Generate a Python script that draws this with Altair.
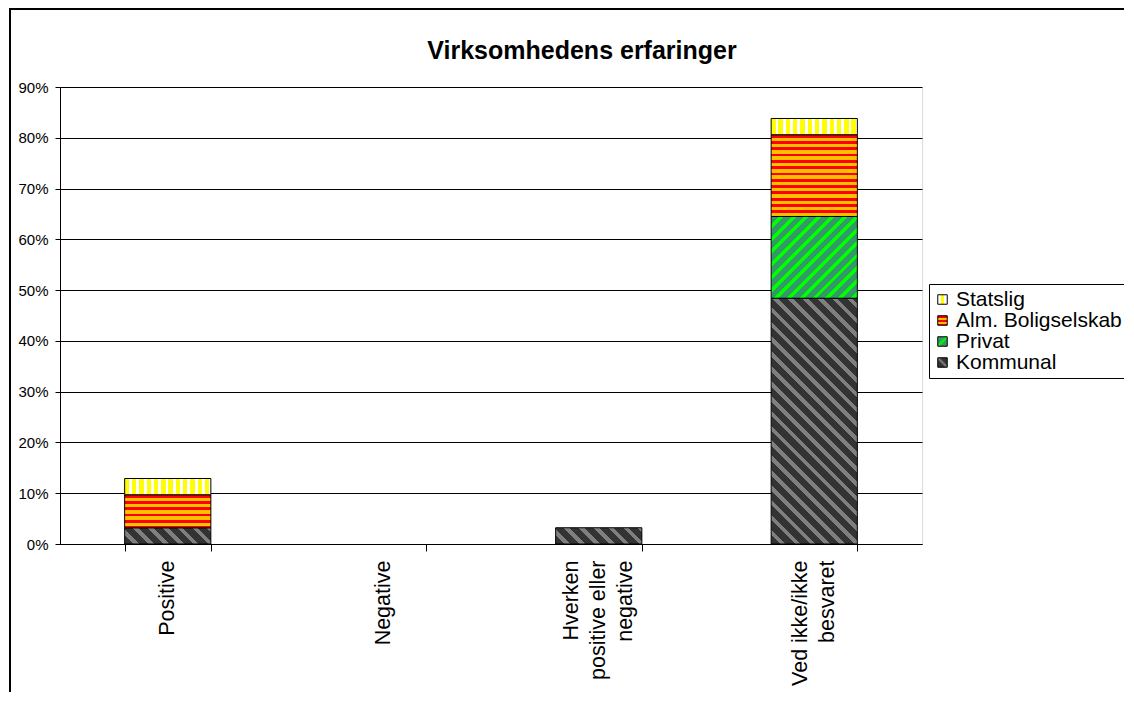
import math
import altair as alt
import pandas as pd

# ---------------- data ----------------
categories = ["Positive", "Negative", "Hverken positive eller negative", "Ved ikke/ikke besvaret"]
category_lines = [["Positive"], ["Negative"], ["Hverken", "positive eller", "negative"], ["Ved ikke/ikke", "besvaret"]]
series = ["Kommunal", "Privat", "Alm. Boligselskab", "Statslig"]          # bottom -> top in the stack
legend_order = ["Statslig", "Alm. Boligselskab", "Privat", "Kommunal"]
kommunal = [3.2, 0.0, 3.2, 48.4]
privat = [0.0, 0.0, 0.0, 16.1]
alm_boligselskab = [6.5, 0.0, 0.0, 16.1]
statslig = [3.2, 0.0, 0.0, 3.2]
y_ticks = [0, 10, 20, 30, 40, 50, 60, 70, 80, 90]
title_text = "Virksomhedens erfaringer"

values_by_series = {
    "Kommunal": kommunal,
    "Privat": privat,
    "Alm. Boligselskab": alm_boligselskab,
    "Statslig": statslig,
}
rows = []
for si, s in enumerate(series):
    for ci, c in enumerate(categories):
        rows.append({"category": c, "series": s, "pct": values_by_series[s][ci], "order": si})
df = pd.DataFrame(rows)

# ---------------- layout ----------------
PLOT_W, PLOT_H = 862, 457
Y_MAX = 90
PAD_INNER, PAD_OUTER = 0.6, 0.3
STEP = PLOT_W / (len(categories) - PAD_INNER + 2 * PAD_OUTER)
BAR_W = STEP * (1 - PAD_INNER)
FONT = "Liberation Sans, Arial, Helvetica, sans-serif"
X_LABEL_SIZE = 21.5
X_LINE_H = 27

# ---------------- hatch patterns as striped gradients ----------------
def stops(pattern, n):
    parts = []
    for k in range(n):
        acc = 0.0
        for col, frac in pattern:
            a = (k + acc) / n
            acc += frac
            b = (k + acc) / n
            parts.append("{offset:%.5f,color:'%s'}" % (a, col))
            parts.append("{offset:%.5f,color:'%s'}" % (b, col))
    return "[" + ",".join(parts) + "]"

H = "(abs(datum.pct_end - datum.pct_start) * %.5f)" % (PLOT_H / Y_MAX)
W = "%.4f" % BAR_W

# Kommunal: dark grey with lighter "\" stripes
N_K, P_K = 40, 10.5
S_K = "(%.5f/(%.5f+%s*%s))" % (math.sqrt(2) * P_K * N_K * BAR_W, BAR_W * BAR_W, H, H)
grad_k = "{gradient:'linear',x1:0,y1:1,x2:%s,y2:1-%s*%s/%s,stops:%s}" % (
    S_K, S_K, H, W, stops([("#333333", 0.62), ("#7f7f7f", 0.38)], N_K))
# Privat: sea green with lime "/" stripes
N_P, P_P = 40, 9.0
S_P = "(%.5f/(%.5f+%s*%s))" % (math.sqrt(2) * P_P * N_P * BAR_W, BAR_W * BAR_W, H, H)
grad_p = "{gradient:'linear',x1:0,y1:0,x2:%s,y2:%s*%s/%s,stops:%s}" % (
    S_P, S_P, H, W, stops([("#339966", 0.62), ("#00ff00", 0.38)], N_P))
# Alm. Boligselskab: red / orange horizontal stripes
N_A, P_A = 20, 6.3
grad_a = "{gradient:'linear',x1:0,y1:0,x2:0,y2:%.4f/%s,stops:%s}" % (
    N_A * P_A, H, stops([("#ff0000", 0.45), ("#ffc000", 0.55)], N_A))
# Statslig: yellow / white vertical stripes
N_S, P_S = 16, 7.3
grad_s = "{gradient:'linear',x1:0,y1:0,x2:%.5f,y2:0,stops:%s}" % (
    N_S * P_S / BAR_W, stops([("#ffff00", 0.6), ("#ffffff", 0.4)], N_S))

fill_expr = ("datum.series === 'Kommunal' ? %s : datum.series === 'Privat' ? %s : "
             "datum.series === 'Statslig' ? %s : %s") % (grad_k, grad_p, grad_s, grad_a)

legend_grad = {
    "Statslig": "{gradient:'linear',x1:0,y1:0,x2:1,y2:0,stops:[{offset:0,color:'#ffffff'},{offset:0.38,color:'#ffffff'},{offset:0.38,color:'#ffff00'},{offset:0.68,color:'#ffff00'},{offset:0.68,color:'#ffffff'},{offset:1,color:'#ffffff'}]}",
    "Alm. Boligselskab": "{gradient:'linear',x1:0,y1:0,x2:0,y2:1,stops:[{offset:0,color:'#ff0000'},{offset:0.25,color:'#ff0000'},{offset:0.25,color:'#ffc000'},{offset:0.45,color:'#ffc000'},{offset:0.45,color:'#ff0000'},{offset:0.65,color:'#ff0000'},{offset:0.65,color:'#ffc000'},{offset:0.85,color:'#ffc000'},{offset:0.85,color:'#ff0000'},{offset:1,color:'#ff0000'}]}",
    "Privat": "{gradient:'linear',x1:0,y1:0,x2:1,y2:1,stops:[{offset:0,color:'#339966'},{offset:0.35,color:'#339966'},{offset:0.5,color:'#00ff00'},{offset:0.65,color:'#339966'},{offset:1,color:'#339966'}]}",
    "Kommunal": "{gradient:'linear',x1:0,y1:1,x2:1,y2:0,stops:[{offset:0,color:'#333333'},{offset:0.35,color:'#333333'},{offset:0.5,color:'#808080'},{offset:0.65,color:'#333333'},{offset:1,color:'#333333'}]}",
}
color_range = [alt.ExprRef(legend_grad[s]) for s in legend_order]

# multi-line category labels, centred on their band
label_expr = ""
for c, lines in zip(categories, category_lines):
    label_expr += "datum.value === '%s' ? [%s] : " % (c, ",".join("'%s'" % l for l in lines))
label_expr += "datum.value"
label_offset = {
    "condition": [
        {"test": "datum.value === '%s'" % c, "value": -(len(lines) - 1) * X_LINE_H / 2}
        for c, lines in zip(categories, category_lines) if len(lines) > 1
    ],
    "value": 0,
}

# ---------------- chart ----------------
x_enc = alt.X("category:N", sort=categories,
              scale=alt.Scale(domain=categories, paddingInner=PAD_INNER, paddingOuter=PAD_OUTER),
              axis=alt.Axis(title=None, labelAngle=270, labelAlign="right", labelBaseline="middle",
                            labelExpr=label_expr, labelFontSize=X_LABEL_SIZE, labelLineHeight=X_LINE_H,
                            labelOffset=label_offset,
                            labelPadding=9, tickBand="extent", tickSize=7, labelColor="black",
                            domainColor="black", tickColor="black", labelFont=FONT, grid=False))
y_enc = alt.Y("pct:Q", stack="zero",
              scale=alt.Scale(domain=[0, Y_MAX], nice=False, zero=True),
              axis=alt.Axis(title=None, values=y_ticks, labelExpr="datum.value + '%'",
                            labelFontSize=15, labelPadding=7, tickSize=5, grid=True,
                            gridColor="black", gridWidth=1, gridOpacity=1,
                            domainColor="black", tickColor="black", labelColor="black",
                            labelFont=FONT))

bars = alt.Chart(df).transform_filter("datum.pct > 0").mark_bar(
    stroke="black", strokeWidth=1
).encode(
    x=x_enc,
    y=y_enc,
    detail="series:N",
    fill=alt.value(alt.ExprRef(fill_expr)),
    order=alt.Order("order:Q"),
)

legend_layer = alt.Chart(df).mark_square(opacity=0, size=1).encode(
    x=alt.value(0), y=alt.value(0),
    color=alt.Color("series:N",
                    scale=alt.Scale(domain=legend_order, range=color_range),
                    legend=alt.Legend(title=None, orient="none", legendX=869, legendY=197,
                                      fillColor="white", strokeColor="black", padding=5,
                                      symbolType="square", symbolSize=90, symbolOpacity=1,
                                      symbolOffset=-2,
                                      symbolStrokeColor="black", symbolStrokeWidth=1,
                                      labelFontSize=21, labelFont=FONT, labelColor="black",
                                      labelOffset=3, rowPadding=-4, labelLimit=400)),
)

frame_data = alt.Data(values=[{"f": 1}])
frame_left = alt.Chart(frame_data).mark_rule(color="black", strokeWidth=2).encode(
    x=alt.value(-50), y=alt.value(-79), y2=alt.value(700)
)
frame_top = alt.Chart(frame_data).mark_rule(color="black", strokeWidth=2).encode(
    x=alt.value(-51), x2=alt.value(1200), y=alt.value(-78)
)

title_layer = alt.Chart(alt.Data(values=[{"t": title_text}])).mark_text(
    font=FONT, fontSize=25, fontWeight="bold", color="black", align="center", baseline="alphabetic"
).encode(text="t:N", x=alt.value(522), y=alt.value(-28))

chart = alt.layer(frame_left, frame_top, bars, legend_layer, title_layer).properties(
    width=PLOT_W, height=PLOT_H,
    autosize=alt.AutoSizeParams(type="none"),
    padding={"left": 52, "top": 79, "right": 202, "bottom": 148},
).configure_view(stroke="black", strokeWidth=1).configure(background="white")

chart.save("out.html", embed_options={"renderer": "svg", "actions": False})
